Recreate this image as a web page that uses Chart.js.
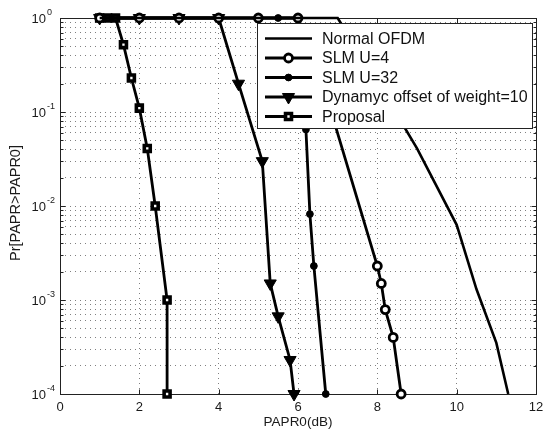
<!DOCTYPE html>
<html>
<head>
<meta charset="utf-8">
<script src="https://cdn.jsdelivr.net/npm/chart.js@4.4.0/dist/chart.umd.min.js"></script>
<style>
    body { margin: 0; background: #fff; }
    #contenedor { width: 544px; height: 429px; }
</style>
</head>
<body>
<div id="contenedor"><canvas id="grafico" width="544" height="429"></canvas></div>
<script>
// nombres de las curvas (en el orden de la leyenda)
var nombres = ['Normal OFDM', 'SLM U=4', 'SLM U=32', 'Dynamyc offset of weight=10', 'Proposal'];

// PAPR0 (dB) y probabilidad Pr[PAPR>PAPR0] de cada curva
var xNormal = [1, 7, 8, 9, 10, 10.5, 11, 11.3];
var yNormal = [1, 1, 0.21, 0.041, 0.0063, 0.0013, 0.00035, 0.0001];

var xSlm4 = [1, 2, 3, 4, 5, 6, 6.5, 8.0, 8.1, 8.2, 8.4, 8.6];
var ySlm4 = [1, 1, 1, 1, 1, 1, 0.3, 0.0023, 0.0015, 0.00079, 0.0004, 0.0001];

var xSlm32 = [1, 2, 3, 4, 5, 5.5, 6.0, 6.2, 6.3, 6.4, 6.7];
var ySlm32 = [1, 1, 1, 1, 1, 1, 1, 0.065, 0.0082, 0.0023, 0.0001];

var xDinamico = [1, 2, 3, 4, 4.5, 5.1, 5.3, 5.5, 5.8, 5.9];
var yDinamico = [1, 1, 1, 1, 0.2, 0.03, 0.0015, 0.00067, 0.00023, 0.0001];

var xPropuesta = [1.0, 1.2, 1.4, 1.6, 1.8, 2.0, 2.2, 2.4, 2.7, 2.7];
var yPropuesta = [1, 1, 1, 0.52, 0.23, 0.11, 0.041, 0.01, 0.001, 0.0001];

// marcas de los ejes
var xTicks = [0, 2, 4, 6, 8, 10, 12];
var yExponentes = [0, -1, -2, -3, -4];

// ticks menores del eje log: 1..9 por decada
var yTicks = [];
for (var e = -4; e < 0; e++) {
    for (var m = 1; m <= 9; m++) {
        yTicks.push(m * Math.pow(10, e));
    }
}
yTicks.push(1);

function puntos(xs, ys) {
    return xs.map(function (x, i) { return { x: x, y: ys[i] }; });
}

var fuente = '"Liberation Sans", Arial, Helvetica, sans-serif';

var series = [
    { label: nombres[0], data: puntos(xNormal, yNormal), borderWidth: 2.6, pointRadius: 0, pointStyle: false },
    { label: nombres[1], data: puntos(xSlm4, ySlm4), borderWidth: 2.8, pointStyle: 'circle', pointRadius: 4, pointBorderWidth: 2.8, pointBackgroundColor: '#fff' },
    { label: nombres[2], data: puntos(xSlm32, ySlm32), borderWidth: 2.8, pointStyle: 'circle', pointRadius: 3.4, pointBorderWidth: 1, pointBackgroundColor: '#000' },
    { label: nombres[3], data: puntos(xDinamico, yDinamico), borderWidth: 2.8, pointStyle: 'triangle', pointRotation: 180, pointRadius: 7, pointBorderWidth: 1, pointBackgroundColor: '#000' },
    { label: nombres[4], data: puntos(xPropuesta, yPropuesta), borderWidth: 2.8, pointStyle: 'rect', pointRadius: 4.2, pointBorderWidth: 3.6, pointBackgroundColor: '#fff' }
];
series.forEach(function (s) {
    s.borderColor = '#000';
    s.pointBorderColor = '#000';
    s.tension = 0;
    s.clip = false;
});

// dibuja un marcador igual al de la serie (para la leyenda)
function marcador(ctx, s, x, y) {
    if (!s.pointStyle) return;
    var r = s.pointRadius;
    ctx.save();
    ctx.fillStyle = s.pointBackgroundColor;
    ctx.strokeStyle = '#000';
    ctx.lineWidth = s.pointBorderWidth;
    ctx.beginPath();
    if (s.pointStyle === 'circle') {
        ctx.arc(x, y, r, 0, Math.PI * 2);
    } else if (s.pointStyle === 'rect') {
        var l = Math.SQRT1_2 * r;
        ctx.rect(x - l, y - l, 2 * l, 2 * l);
    } else {
        ctx.moveTo(x, y + r);
        ctx.lineTo(x - r * 0.866, y - r / 2);
        ctx.lineTo(x + r * 0.866, y - r / 2);
        ctx.closePath();
    }
    ctx.fill();
    ctx.stroke();
    ctx.restore();
}

var ejes = {
    id: 'ejes',
    beforeDatasetsDraw: function (chart) {
        var ctx = chart.ctx, a = chart.chartArea;
        var sx = chart.scales.x, sy = chart.scales.y;
        var L = Math.round(a.left) + 0.5, R = Math.round(a.right) + 0.5;
        var T = Math.round(a.top) + 0.5, B = Math.round(a.bottom) + 0.5;
        ctx.save();
        ctx.strokeStyle = '#222';
        ctx.lineWidth = 1;
        ctx.strokeRect(L, T, R - L, B - T);

        // marcas hacia adentro
        ctx.beginPath();
        xTicks.forEach(function (v) {
            var px = Math.round(sx.getPixelForValue(v)) + 0.5;
            ctx.moveTo(px, B); ctx.lineTo(px, B - 5);
            ctx.moveTo(px, T); ctx.lineTo(px, T + 5);
        });
        yTicks.forEach(function (v) {
            var py = Math.round(sy.getPixelForValue(v)) + 0.5;
            var mayor = Math.abs(Math.log10(v) - Math.round(Math.log10(v))) < 1e-9;
            var len = mayor ? 5 : 3;
            ctx.moveTo(L, py); ctx.lineTo(L + len, py);
            ctx.moveTo(R, py); ctx.lineTo(R - len, py);
        });
        ctx.stroke();

        // etiquetas del eje x
        ctx.fillStyle = '#1a1a1a';
        ctx.font = '13px ' + fuente;
        ctx.textAlign = 'center';
        ctx.textBaseline = 'middle';
        xTicks.forEach(function (v) {
            ctx.fillText(String(v), sx.getPixelForValue(v), 407);
        });

        // etiquetas del eje y con exponente
        yExponentes.forEach(function (ex) {
            var py = sy.getPixelForValue(Math.pow(10, ex));
            ctx.font = '13px ' + fuente;
            ctx.textAlign = 'right';
            ctx.textBaseline = 'middle';
            ctx.fillText('10', 46, py + 1);
            ctx.font = '9px ' + fuente;
            ctx.textAlign = 'left';
            ctx.fillText(String(ex), 47, py - 5);
        });

        // titulos
        ctx.font = '13.5px ' + fuente;
        ctx.textAlign = 'center';
        ctx.textBaseline = 'middle';
        ctx.fillText('PAPR0(dB)', (a.left + a.right) / 2, 422);
        ctx.save();
        ctx.translate(16, (a.top + a.bottom) / 2 - 3);
        ctx.rotate(-Math.PI / 2);
        ctx.font = '14.5px ' + fuente;
        ctx.fillText('Pr[PAPR>PAPR0]', 0, 0);
        ctx.restore();
        ctx.restore();
    },
    afterDatasetsDraw: function (chart) {
        // leyenda dentro del area de trazado
        var ctx = chart.ctx;
        var bx = 257.5, by = 23.5, bw = 275, bh = 105;
        ctx.save();
        ctx.fillStyle = '#fff';
        ctx.fillRect(bx, by, bw, bh);
        ctx.strokeStyle = '#222';
        ctx.lineWidth = 1;
        ctx.strokeRect(bx, by, bw, bh);
        ctx.font = '16px ' + fuente;
        ctx.textAlign = 'left';
        ctx.textBaseline = 'middle';
        series.forEach(function (s, i) {
            var y = 38.5 + i * 19.5;
            ctx.strokeStyle = '#000';
            ctx.lineWidth = s.borderWidth;
            ctx.beginPath();
            ctx.moveTo(265, y);
            ctx.lineTo(312, y);
            ctx.stroke();
            marcador(ctx, s, 288.5, y);
            ctx.fillStyle = '#111';
            ctx.fillText(s.label, 322, y + 1);
        });
        ctx.restore();
    }
};

var chart = new Chart(document.getElementById('grafico').getContext('2d'), {
    type: 'line',
    data: { datasets: series },
    options: {
        responsive: false,
        animation: false,
        devicePixelRatio: 1,
        layout: { padding: { left: 60, right: 6, top: 18, bottom: 35 } },
        plugins: { legend: { display: false }, tooltip: { enabled: false } },
        events: [],
        scales: {
            x: {
                type: 'linear',
                min: 0,
                max: 12,
                ticks: { display: false, stepSize: 2 },
                grid: { color: '#808080', lineWidth: 1, drawTicks: false },
                border: { display: false, dash: [1, 4] }
            },
            y: {
                type: 'logarithmic',
                min: 1e-4,
                max: 1,
                afterBuildTicks: function (axis) {
                    axis.ticks = yTicks.map(function (v) { return { value: v }; });
                },
                ticks: { display: false },
                grid: { color: '#808080', lineWidth: 1, drawTicks: false },
                border: { display: false, dash: [1, 4] }
            }
        }
    },
    plugins: [ejes]
});
</script>
</body>
</html>
